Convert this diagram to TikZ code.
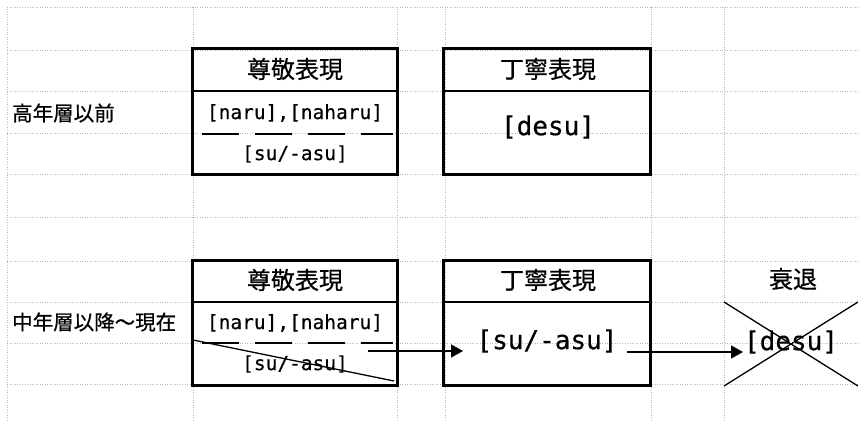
\documentclass[tikz,border=0pt]{standalone}
\usepackage{fontspec}
\setmainfont{Noto Sans CJK JP}[FakeBold=0.5]
\newfontfamily\monofont{DejaVu Sans Mono}[FakeBold=0.4]
\usetikzlibrary{arrows.meta}
\tikzset{
  grid/.style={draw=black!28, line width=0.5pt, dotted},
  box/.style={draw=black, line width=3pt, rectangle, inner sep=0pt},
  divider/.style={draw=black, line width=2.4pt},
  sep/.style={draw=black, line width=1.4pt, dash pattern=on 37pt off 16pt},
  thin/.style={draw=black, line width=1.3pt},
  arr/.style={draw=black, line width=1.4pt, -{Triangle[length=12pt,width=13pt]}},
  title/.style={font=\fontsize{24}{27}\selectfont, inner sep=0pt},
  lbl/.style={font=\fontsize{20.5}{24}\selectfont, inner sep=0pt, anchor=west},
  ms/.style={font=\monofont\fontsize{19.5}{22}\selectfont, inner sep=0pt},
  mb/.style={font=\monofont\fontsize{26}{30}\selectfont, inner sep=0pt}
}
\begin{document}
\begin{tikzpicture}[x=1pt,y=-1pt]
\useasboundingbox (0,0) rectangle (858,422);
\fill[white] (0,0) rectangle (858,422);
% spreadsheet grid
\foreach \yy in {7,50,91,133,174,217,261,302,343,384} \draw[grid] (7,\yy) -- (858,\yy);
\foreach \xx in {7,193,397,445,651,724} \draw[grid] (\xx,7) -- (\xx,422);
% upper row
\node[lbl] (old) at (12,113) {高年層以前};
\node[box, minimum width=205pt, minimum height=125pt] (b1) at (294.5,111.5) {};
\node[box, minimum width=207pt, minimum height=125pt] (b2) at (546.5,111.5) {};
\draw[divider] (b1.west |- 0,91) -- (b1.east |- 0,91);
\draw[divider] (b2.west |- 0,91) -- (b2.east |- 0,91);
\node[title] (t1) at (295,69) {尊敬表現};
\node[title] (t2) at (548,69) {丁寧表現};
\node[ms] (n1) at (295,113) {[naru],[naharu]};
\draw[sep] (202,134) -- (393,134);
\node[ms] (s1) at (295,154) {[su/-asu]};
\node[mb] (d1) at (548,127) {[desu]};
% lower row
\node[lbl] (new) at (12,322) {中年層以降〜現在};
\node[box, minimum width=205pt, minimum height=125pt] (b3) at (294.5,322.5) {};
\node[box, minimum width=207pt, minimum height=125pt] (b4) at (546.5,322.5) {};
\draw[divider] (b3.west |- 0,302) -- (b3.east |- 0,302);
\draw[divider] (b4.west |- 0,302) -- (b4.east |- 0,302);
\node[title] (t3) at (295,280) {尊敬表現};
\node[title] (t4) at (548,280) {丁寧表現};
\node[ms] (n3) at (295,323) {[naru],[naharu]};
\draw[sep] (202,343) -- (393,343);
\node[ms] (s3) at (295,364) {[su/-asu]};
\draw[thin] (193,340) -- (394,381);
\node[mb] (s4) at (547,341) {[su/-asu]};
\node[title] (t5) at (793,279) {衰退};
\node[mb] (d4) at (791,342) {[desu]};
\draw[thin] (724,302) -- (858,386);
\draw[thin] (724,386) -- (858,302);
% arrows
\coordinate (a1s) at (368,351);
\coordinate (a1e) at (463,351);
\coordinate (a2s) at (627,352);
\coordinate (a2e) at (743,352);
\draw[arr] (a1s) -- (a1e);
\draw[arr] (a2s) -- (a2e);
\end{tikzpicture}
\end{document}
